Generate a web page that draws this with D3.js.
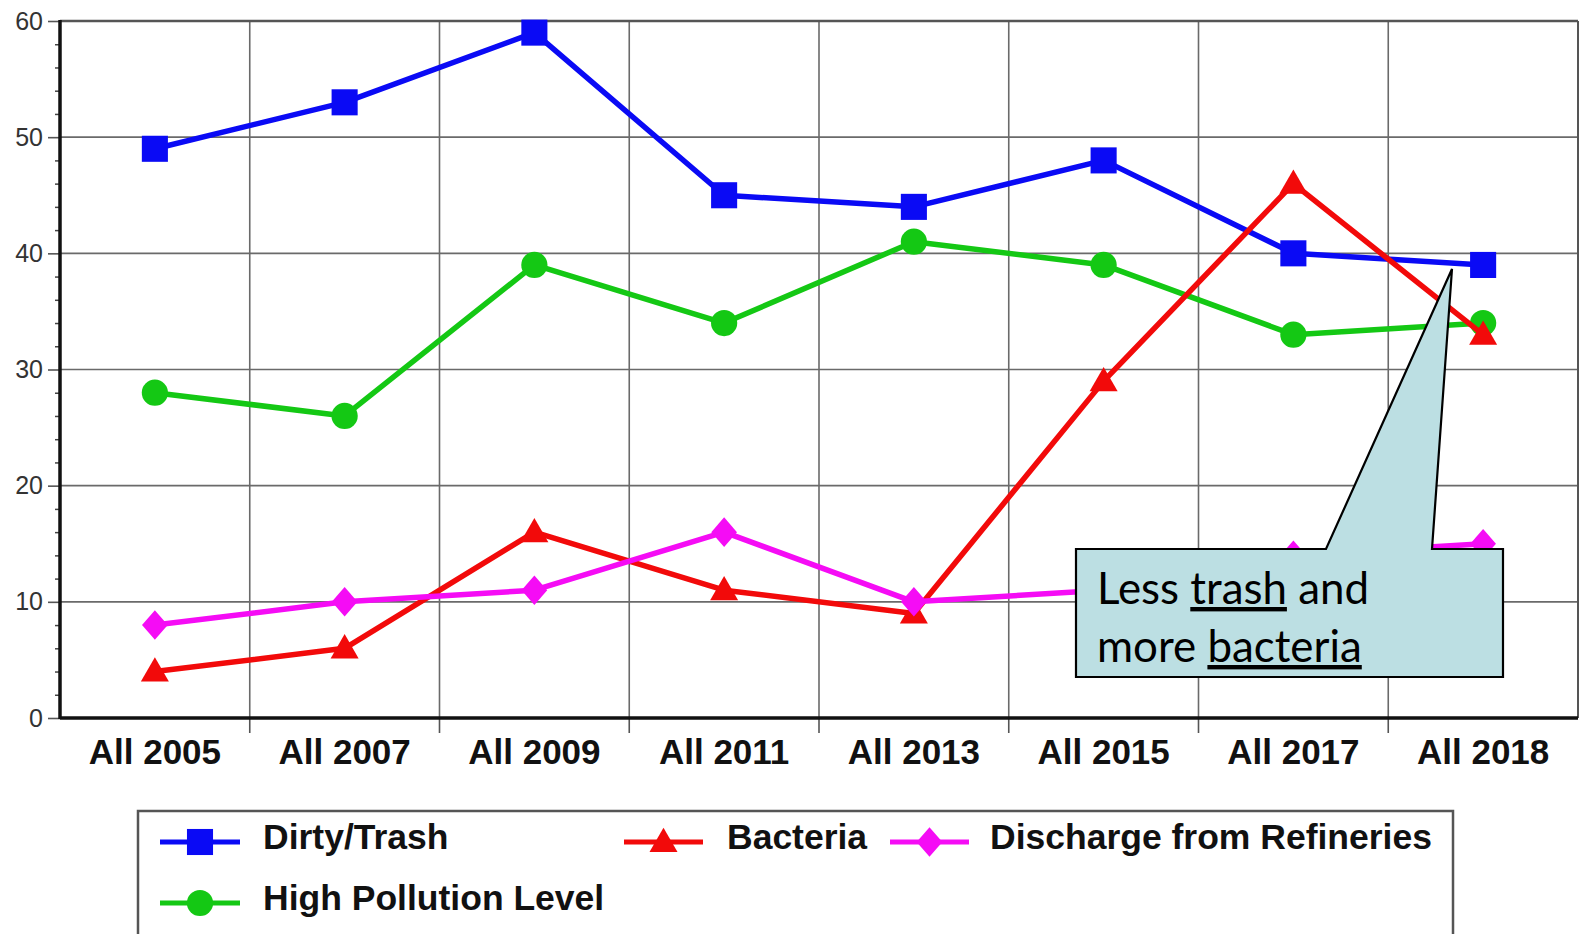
<!DOCTYPE html>
<html>
<head>
<meta charset="utf-8">
<script src="https://cdn.jsdelivr.net/npm/d3@7"></script>
<style>
  html, body { margin: 0; padding: 0; background: #fff; }
  svg { display: block; }
</style>
</head>
<body>
<svg id="chart" width="1579" height="934"></svg>
<script>
// ---- data ----
const categories = ["All 2005", "All 2007", "All 2009", "All 2011", "All 2013", "All 2015", "All 2017", "All 2018"];
const dirtyTrash = [49, 53, 59, 45, 44, 48, 40, 39];
const bacteria = [4, 6, 16, 11, 9, 29, 46, 33];
const discharge = [8, 10, 11, 16, 10, 11, 14, 15];
const highPollution = [28, 26, 39, 34, 41, 39, 33, 34];
const seriesNames = ["Dirty/Trash", "Bacteria", "Discharge from Refineries", "High Pollution Level"];
const yTicks = [0, 10, 20, 30, 40, 50, 60];
const calloutLines = [["Less ", "trash", " and"], ["more ", "bacteria", ""]];

(function () {
// ---- styling ----
const series = [
  { name: seriesNames[0], values: dirtyTrash, color: "#0a0af5", symbol: d3.symbolSquare, size: 680, rot: 0 },
  { name: seriesNames[3], values: highPollution, color: "#14c814", symbol: d3.symbolCircle, size: 540, rot: 0 },
  { name: seriesNames[1], values: bacteria, color: "#f20a0a", symbol: d3.symbolTriangle, size: 340, rot: 0 },
  { name: seriesNames[2], values: discharge, color: "#f50cf5", symbol: d3.symbolSquare, size: 330, rot: 1 }
];
const markTransform = (s, px, py) =>
  `translate(${px},${py + (s.symbol === d3.symbolTriangle ? 2 : 0)})` + (s.rot ? " scale(1,1.15) rotate(45)" : "");

const svg = d3.select("#chart");
const pLeft = 60, pRight = 1578, pTop = 21, pBottom = 718;

const x = d3.scaleBand().domain(categories).range([pLeft, pRight]).padding(0);
const y = d3.scaleLinear().domain([0, 60]).range([pBottom, pTop]);

// gridlines
const grid = svg.append("g");
grid.selectAll("line.h").data(yTicks.slice(1, -1)).join("line")
  .attr("class", "h")
  .attr("x1", pLeft).attr("x2", pRight)
  .attr("y1", d => y(d)).attr("y2", d => y(d))
  .attr("stroke", "#6a6a6a").attr("stroke-width", 1.6);
grid.selectAll("line.v").data(categories.slice(1)).join("line")
  .attr("class", "v")
  .attr("x1", d => x(d)).attr("x2", d => x(d))
  .attr("y1", pTop).attr("y2", pBottom)
  .attr("stroke", "#6a6a6a").attr("stroke-width", 1.6);

// top & right border
svg.append("line").attr("x1", pLeft).attr("x2", pRight).attr("y1", pTop).attr("y2", pTop)
  .attr("stroke", "#555").attr("stroke-width", 2.5);
svg.append("line").attr("x1", pRight).attr("x2", pRight).attr("y1", pTop).attr("y2", pBottom)
  .attr("stroke", "#555").attr("stroke-width", 2);

// left axis: major ticks with labels
const yAxis = svg.append("g").attr("transform", `translate(${pLeft},0)`)
  .call(d3.axisLeft(y).tickValues(yTicks).tickSize(12).tickPadding(5).tickFormat(d3.format("d")));
yAxis.select(".domain").remove();
yAxis.selectAll(".tick line").attr("stroke", "#555").attr("stroke-width", 1.6);
yAxis.selectAll(".tick text").attr("font-family", "Liberation Sans, Arial, sans-serif")
  .attr("font-size", 25).attr("fill", "#333");

// minor ticks
const minor = d3.range(0, 61, 2).filter(v => v % 10 !== 0);
const yMinor = svg.append("g").attr("transform", `translate(${pLeft},0)`)
  .call(d3.axisLeft(y).tickValues(minor).tickSize(5).tickFormat(""));
yMinor.select(".domain").remove();
yMinor.selectAll(".tick line").attr("stroke", "#444").attr("stroke-width", 1.5);

// bottom axis labels
const xAxis = svg.append("g").attr("transform", `translate(0,${pBottom})`)
  .call(d3.axisBottom(x).tickSize(0).tickPadding(21));
xAxis.select(".domain").remove();
xAxis.selectAll(".tick text").attr("font-family", "Liberation Sans, Arial, sans-serif")
  .attr("font-size", 35).attr("font-weight", "bold").attr("fill", "#111");

// boundary ticks on x axis
svg.append("g").selectAll("line").data(categories.slice(1)).join("line")
  .attr("x1", d => x(d)).attr("x2", d => x(d))
  .attr("y1", pBottom).attr("y2", pBottom + 15)
  .attr("stroke", "#555").attr("stroke-width", 1.6);

// axis lines
svg.append("line").attr("x1", pLeft).attr("x2", pRight).attr("y1", pBottom).attr("y2", pBottom)
  .attr("stroke", "#111").attr("stroke-width", 3.5);
svg.append("line").attr("x1", pLeft).attr("x2", pLeft).attr("y1", pTop - 1).attr("y2", pBottom + 1)
  .attr("stroke", "#111").attr("stroke-width", 3.5);

// lines and markers
const cx = d => x(d) + x.bandwidth() / 2;
const lineGen = d3.line().x((v, i) => cx(categories[i])).y(v => y(v));
series.forEach(s => {
  const g = svg.append("g");
  g.append("path").datum(s.values).attr("d", lineGen)
    .attr("fill", "none").attr("stroke", s.color).attr("stroke-width", 5.5)
    .attr("stroke-linejoin", "round");
  g.selectAll("path.m").data(s.values).join("path")
    .attr("class", "m")
    .attr("transform", (v, i) => markTransform(s, cx(categories[i]), y(v)))
    .attr("d", d3.symbol().type(s.symbol).size(s.size))
    .attr("fill", s.color);
});

// legend
const lg = svg.append("g");
lg.append("rect").attr("x", 138).attr("y", 811).attr("width", 1315).attr("height", 140)
  .attr("fill", "#fff").attr("stroke", "#555").attr("stroke-width", 2.5);
const legendPos = {
  "Dirty/Trash": { x0: 160, x1: 240, tx: 263, cy: 842 },
  "Bacteria": { x0: 624, x1: 703, tx: 727, cy: 842 },
  "Discharge from Refineries": { x0: 890, x1: 969, tx: 990, cy: 842 },
  "High Pollution Level": { x0: 160, x1: 240, tx: 263, cy: 903 }
};
series.forEach(s => {
  const p = legendPos[s.name];
  lg.append("line").attr("x1", p.x0).attr("x2", p.x1).attr("y1", p.cy).attr("y2", p.cy)
    .attr("stroke", s.color).attr("stroke-width", 5);
  lg.append("path")
    .attr("transform", markTransform(s, (p.x0 + p.x1) / 2, p.cy))
    .attr("d", d3.symbol().type(s.symbol).size(s.size)).attr("fill", s.color);
  lg.append("text").attr("x", p.tx).attr("y", p.cy + 7)
    .attr("font-family", "Liberation Sans, Arial, sans-serif").attr("font-size", 35.5)
    .attr("font-weight", "bold").attr("fill", "#111").text(s.name);
});

// callout
const co = svg.append("g");
const bx0 = 1076, bx1 = 1503, by0 = 549, by1 = 677;
const pts = [[bx0, by0], [1326, by0], [1452, 269], [1432, by0], [bx1, by0], [bx1, by1], [bx0, by1]];
co.append("path").attr("d", "M" + pts.map(p => p.join(",")).join("L") + "Z")
  .attr("fill", "#bcdfe3").attr("stroke", "#000").attr("stroke-width", 2.2)
  .attr("stroke-linejoin", "miter");
const baselines = [604, 662];
calloutLines.forEach((parts, li) => {
  const t = co.append("text").attr("x", 1097).attr("y", baselines[li])
    .attr("font-family", "Lato, 'Open Sans', sans-serif").attr("font-size", 40).attr("fill", "#000");
  parts.forEach((p, pi) => {
    const ts = t.append("tspan").text(p);
    if (pi === 1) ts.attr("text-decoration", "underline");
  });
});
const firstText = co.select("text").node();
const w = firstText.getComputedTextLength();
const fs = 40 * 272 / w;
co.selectAll("text").attr("font-size", fs);
})();
</script>
</body>
</html>
